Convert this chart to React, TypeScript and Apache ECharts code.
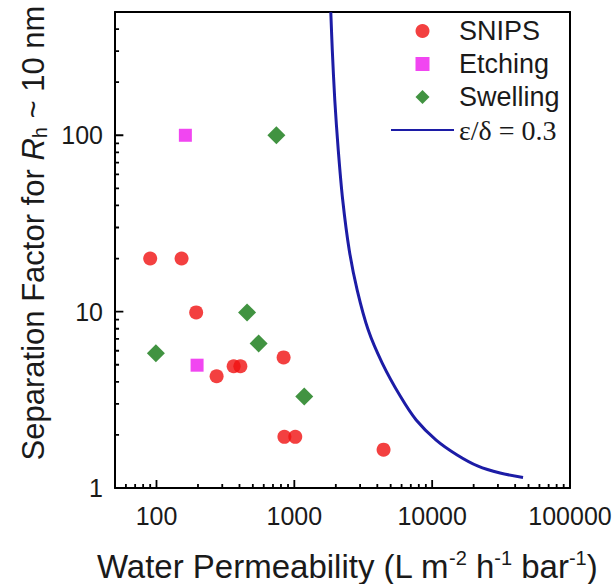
import React, { useEffect, useRef } from "react";
import * as echarts from "echarts";

const FONT = "Liberation Sans, Arial, sans-serif";
const SERIF = "Liberation Serif, Times New Roman, serif";

const X_MIN = 50;
const X_MAX = 100000;
const Y_MIN = 1;
const Y_MAX = 500;

const xMajor = [100, 1000, 10000, 100000];
const xMinor = [
  60, 70, 80, 90,
  200, 300, 400, 500, 600, 700, 800, 900,
  2000, 3000, 4000, 5000, 6000, 7000, 8000, 9000,
  20000, 30000, 40000, 50000, 60000, 70000, 80000, 90000,
];
const yMajor = [1, 10, 100];
const yMinor = [2, 3, 4, 5, 6, 7, 8, 9, 20, 30, 40, 50, 60, 70, 80, 90, 200, 300, 400];

const snipsX = [90, 152, 194, 273, 363, 406, 836, 847, 1016, 4440];
const snipsY = [20, 20, 9.9, 4.3, 4.9, 4.9, 5.5, 1.95, 1.95, 1.65];
const etchX = [162, 197];
const etchY = [100, 4.97];
const swellX = [99, 454, 551, 741, 1180];
const swellY = [5.8, 9.9, 6.6, 100, 3.3];
const curveX = [1839, 1886, 1966, 2084, 2245, 2503, 2861, 3438, 4342, 5864, 7657, 10690, 15180, 21540, 31100, 45630];
const curveY = [498, 303, 158, 82.2, 42.8, 22.3, 13.2, 7.86, 5.11, 3.32, 2.43, 1.87, 1.54, 1.33, 1.216, 1.147];

const LINE_NAME = "ε/δ = 0.3";

const pairs = (xs: number[], ys: number[]) => xs.map((x, i) => [x, ys[i]]);

// tick segments as broken line series, positioned by the axes' own log scales
// (factor = how far the inner end of the tick reaches, as a ratio on the log axis)
const xTickSegs = (vals: number[], factor: number) => {
  const out: any[] = [];
  vals.forEach((v) => {
    out.push([v, Y_MIN], [v, Y_MIN * factor], "-");
  });
  return out;
};
const yTickSegs = (vals: number[], factor: number) => {
  const out: any[] = [];
  vals.forEach((v) => {
    out.push([X_MIN, v], [X_MIN * factor, v], "-");
  });
  return out;
};
const tickLineSeries = (name: string, data: any[]) => ({
  name,
  type: "line",
  silent: true,
  clip: false,
  showSymbol: false,
  symbol: "none",
  connectNulls: false,
  lineStyle: { color: "#000", width: 1.8 },
  data,
  z: 6,
});

const frameAxis = (position: string) => ({
  type: "value",
  position,
  min: 0,
  max: 1,
  axisLine: { show: true, onZero: false, lineStyle: { color: "#000", width: 2 } },
  axisTick: { show: false },
  axisLabel: { show: false },
  splitLine: { show: false },
});

export default function App() {
  const ref = useRef<HTMLDivElement>(null);
  useEffect(() => {
    document.body.style.margin = "0";
    const chart = echarts.init(ref.current!, null, { renderer: "svg" });
    const labelStyle = {
      fontSize: 25,
      fontFamily: FONT,
      color: "#1a1a1a",
      showMinLabel: true,
      showMaxLabel: true,
      hideOverlap: false,
      formatter: (v: number) => String(v),
    };
    chart.setOption({
      animation: false,
      grid: {
        left: 115,
        right: 46,
        top: 12,
        bottom: 96,
        show: false,
        containLabel: false,
        outerBoundsMode: "none",
      },
      xAxis: [
        {
          type: "log",
          logBase: 10,
          min: X_MIN,
          max: X_MAX,
          axisLine: { show: true, onZero: false, lineStyle: { color: "#000", width: 2 } },
          axisTick: { show: false },
          axisLabel: { ...labelStyle, customValues: xMajor, margin: 15 },
          splitLine: { show: false },
        },
        frameAxis("top"),
      ],
      yAxis: [
        {
          type: "log",
          logBase: 10,
          min: Y_MIN,
          max: Y_MAX,
          axisLine: { show: true, onZero: false, lineStyle: { color: "#000", width: 2 } },
          axisTick: { show: false },
          axisLabel: { ...labelStyle, customValues: yMajor, margin: 12 },
          splitLine: { show: false },
        },
        frameAxis("right"),
      ],
      legend: {
        orient: "vertical",
        left: 390,
        top: 17,
        padding: 0,
        itemWidth: 63,
        itemHeight: 14,
        itemGap: 5,
        symbolKeepAspect: true,
        selectedMode: false,
        data: [
          { name: "SNIPS", icon: "circle" },
          { name: "Etching", icon: "path://M0,0L10,0L10,10L0,10Z" },
          { name: "Swelling", icon: "path://M6,0L12,6L6,12L0,6Z" },
          { name: LINE_NAME, itemStyle: { opacity: 0 } },
        ],
        formatter: (name: string) => (name === LINE_NAME ? `{serif|${name}}` : name),
        textStyle: {
          fontSize: 27,
          fontFamily: FONT,
          color: "#1a1a1a",
          lineHeight: 28,
          rich: {
            serif: { fontFamily: SERIF, fontSize: 28, color: "#1a1a1a", lineHeight: 28 },
          },
        },
      },
      graphic: [
        {
          type: "text",
          x: 347,
          y: 566,
          style: {
            text: "Water Permeability (L m{sup|-2} h{sup|-1} bar{sup|-1})",
            fontSize: 33,
            fontFamily: FONT,
            fill: "#1a1a1a",
            align: "center",
            verticalAlign: "middle",
            lineHeight: 36,
            rich: {
              sup: { fontSize: 20, fontFamily: FONT, fill: "#1a1a1a", verticalAlign: "top", lineHeight: 20 },
            },
          },
        },
        {
          type: "text",
          x: 33,
          y: 233,
          rotation: Math.PI / 2,
          style: {
            text: "Separation Factor for {i|R}{sub|h} ~ 10 nm",
            fontSize: 31,
            fontFamily: FONT,
            fill: "#1a1a1a",
            align: "center",
            verticalAlign: "middle",
            lineHeight: 34,
            rich: {
              i: { fontSize: 31, fontStyle: "italic", fontFamily: FONT, fill: "#1a1a1a", lineHeight: 34 },
              sub: { fontSize: 20, fontFamily: FONT, fill: "#1a1a1a", verticalAlign: "bottom", lineHeight: 20 },
            },
          },
        },
      ],
      series: [
        tickLineSeries("xMajorTicks", xTickSegs(xMajor, 1.11)),
        tickLineSeries("xMinorTicks", xTickSegs(xMinor, 1.054)),
        tickLineSeries("yMajorTicks", yTickSegs(yMajor, 1.15)),
        tickLineSeries("yMinorTicks", yTickSegs(yMinor, 1.07)),
        {
          name: "SNIPS",
          type: "scatter",
          symbol: "circle",
          symbolSize: 14,
          itemStyle: { color: "#f01010" },
          data: pairs(snipsX, snipsY),
          z: 3,
        },
        {
          name: "Etching",
          type: "scatter",
          symbol: "rect",
          symbolSize: 13,
          itemStyle: { color: "#ee18ee" },
          data: pairs(etchX, etchY),
          z: 3,
        },
        {
          name: "Swelling",
          type: "scatter",
          symbol: "diamond",
          symbolSize: 18,
          itemStyle: { color: "#127812" },
          data: pairs(swellX, swellY),
          z: 3,
        },
        {
          name: LINE_NAME,
          type: "line",
          smooth: 0.3,
          showSymbol: false,
          symbol: "none",
          clip: true,
          lineStyle: { color: "#1c1ca6", width: 3 },
          itemStyle: { color: "#1c1ca6" },
          data: pairs(curveX, curveY),
          z: 2,
        },
      ],
    });
    return () => chart.dispose();
  }, []);
  return <div ref={ref} style={{ width: 616, height: 584 }} />;
}
